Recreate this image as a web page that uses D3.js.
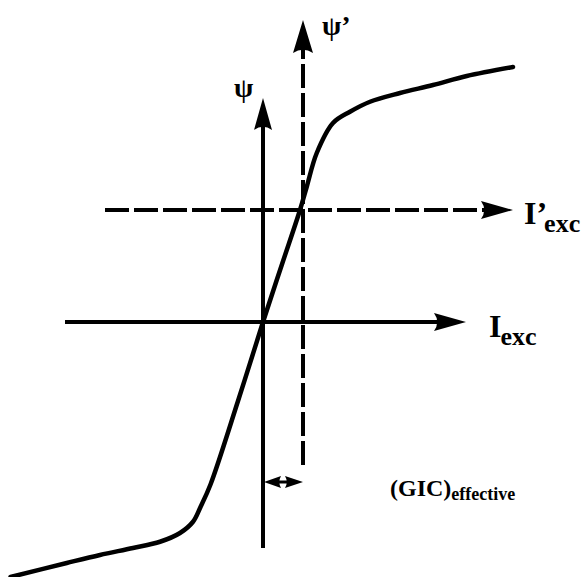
<!DOCTYPE html>
<html>
<head>
<meta charset="utf-8">
<script src="https://cdn.jsdelivr.net/npm/d3@7"></script>
<style>
  html, body { margin: 0; padding: 0; background: #fff; }
  svg { display: block; }
</style>
</head>
<body>
<svg id="chart" width="585" height="577"></svg>
<script>
// Magnetisation curve: flux linkage psi versus excitation current (arbitrary units)
const curveCurrent = [-10.1, -7.85, -6.52, -5.2, -4.12, -3.32, -2.8, -2.5, -2.1, -1.0, 0, 0.75, 1.48, 1.75, 2.15, 2.8, 3.48, 4.28, 5.48, 6.8, 8.15, 10.0];
const curveFlux    = [-10.2, -9.64, -9.32, -9.04, -8.79, -8.44, -7.99, -7.4, -6.5, -3.16, 0, 2.28, 4.48, 5.41, 6.76, 7.96, 8.41, 8.81, 9.16, 9.48, 9.84, 10.2];

// Offset of the shifted operating origin caused by the effective GIC
const gicShift = 1.6;     // along the current axis
const fluxShift = 4.48;   // along the flux axis

// Axis extents [start, end] (end carries the arrowhead)
const mainCurrentAxis  = [-7.92, 8.12];
const mainFluxAxis     = [-9.04, 8.96];
const shiftCurrentAxis = [-6.32, 10.0];
const shiftFluxAxis    = [-5.72, 12.08];
const gicArrowFlux = -6.4;

// Axis labels
const labelPsi = "ψ";
const labelPsiPrime = "ψ’";
const labelCurrent = ["I", "exc"];
const labelCurrentPrime = ["I’", "exc"];
const labelGic = ["(GIC)", "effective"];

const svg = d3.select("#chart");
const x = d3.scaleLinear().domain([-10, 10]).range([13, 513]);
const y = d3.scaleLinear().domain([-10, 10]).range([572, 72]);

const ink = "#000";
const dash = "24,5";
const serif = "'Liberation Serif', 'DejaVu Serif', serif";

// Filled arrowhead pointing along (dx, dy) with its tip at (tx, ty)
function arrowHead(tx, ty, dx, dy, len, half) {
  const n = Math.hypot(dx, dy), ux = dx / n, uy = dy / n;
  const bx = tx - ux * len, by = ty - uy * len;
  const px = -uy, py = ux;
  const p = d3.path();
  p.moveTo(tx, ty);
  p.lineTo(bx + px * half, by + py * half);
  p.quadraticCurveTo(tx - ux * len * 0.8, ty - uy * len * 0.8, bx - px * half, by - py * half);
  p.closePath();
  svg.append("path").attr("d", p.toString()).attr("fill", ink);
}

function axisLine(x1, y1, x2, y2, dashed) {
  svg.append("line")
    .attr("x1", x1).attr("y1", y1).attr("x2", x2).attr("y2", y2)
    .attr("stroke", ink).attr("stroke-width", 4)
    .attr("stroke-dasharray", dashed ? dash : null);
}

function label(px, py) {
  return svg.append("text").attr("x", px).attr("y", py)
    .attr("font-family", serif).attr("font-weight", "bold").attr("fill", ink);
}

// Main axes (solid)
axisLine(x(mainCurrentAxis[0]), y(0), x(mainCurrentAxis[1]) - 20, y(0), false);
arrowHead(x(mainCurrentAxis[1]), y(0), 1, 0, 32, 9);
axisLine(x(0), y(mainFluxAxis[0]), x(0), y(mainFluxAxis[1]) + 20, false);
arrowHead(x(0), y(mainFluxAxis[1]), 0, -1, 32, 9);

// Shifted axes (dashed)
axisLine(x(shiftCurrentAxis[0]), y(fluxShift), x(shiftCurrentAxis[1]) - 20, y(fluxShift), true);
arrowHead(x(shiftCurrentAxis[1]), y(fluxShift), 1, 0, 32, 9);
axisLine(x(gicShift), y(shiftFluxAxis[0]), x(gicShift), y(shiftFluxAxis[1]) + 20, true);
arrowHead(x(gicShift), y(shiftFluxAxis[1]), 0, -1, 33, 10);

// Magnetisation curve
const pts = curveCurrent.map((c, i) => [c, curveFlux[i]]);
svg.append("path")
  .attr("d", d3.line().x(d => x(d[0])).y(d => y(d[1])).curve(d3.curveCatmullRom.alpha(0.5))(pts))
  .attr("fill", "none").attr("stroke", ink).attr("stroke-width", 4.5)
  .attr("stroke-linecap", "round").attr("stroke-linejoin", "round");

// Effective GIC offset marker (double-headed arrow)
const gy = y(gicArrowFlux);
svg.append("line").attr("x1", x(0) + 8).attr("x2", x(gicShift) - 8)
  .attr("y1", gy).attr("y2", gy).attr("stroke", ink).attr("stroke-width", 3);
arrowHead(x(0) + 1, gy, -1, 0, 17, 6);
arrowHead(x(gicShift), gy, 1, 0, 18, 6);

// Labels
label(234, 97).attr("font-size", 28).text(labelPsi);
label(322, 35).attr("font-size", 28).text(labelPsiPrime);

const tc = label(489, 337);
tc.append("tspan").attr("font-size", 32).text(labelCurrent[0]);
tc.append("tspan").attr("font-size", 26).attr("dy", 8).attr("dx", -1).text(labelCurrent[1]);

const tp = label(524, 224);
tp.append("tspan").attr("font-size", 32).text(labelCurrentPrime[0]);
tp.append("tspan").attr("font-size", 26).attr("dy", 8).attr("dx", -3).text(labelCurrentPrime[1]);

const tg = label(390, 496);
tg.append("tspan").attr("font-size", 24).text(labelGic[0]);
tg.append("tspan").attr("font-size", 18).attr("dy", 4).text(labelGic[1]);
</script>
</body>
</html>
